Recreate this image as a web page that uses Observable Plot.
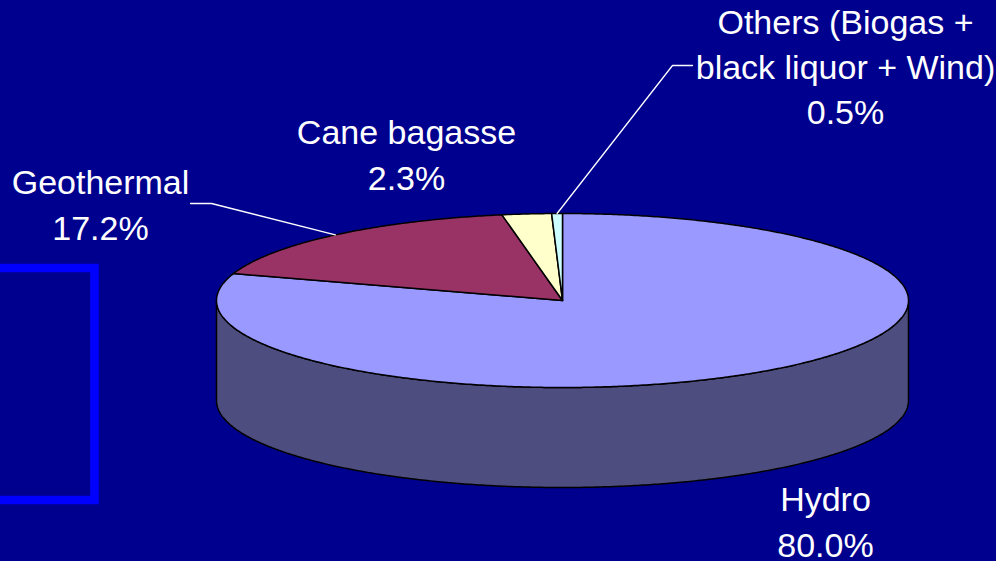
<!DOCTYPE html>
<html>
<head>
<meta charset="utf-8">
<script src="https://cdn.jsdelivr.net/npm/d3@7"></script>
<script src="https://cdn.jsdelivr.net/npm/@observablehq/plot@0.6"></script>
<style>
  html, body { margin: 0; padding: 0; background: #00008F; }
</style>
</head>
<body>
<div id="chart"></div>
<script>
// ---- data ----
const categories = ["Hydro", "Geothermal", "Cane bagasse", "Others (Biogas + black liquor + Wind)"];
const values = [80.0, 17.2, 2.3, 0.5];
const labelLines = ["Hydro", "Geothermal", "Cane bagasse", "Others (Biogas +\nblack liquor + Wind)"];

// ---- styles / layout ----
const topColors = ["#9999FF", "#993366", "#FFFFCC", "#CCFFFF"];
const sideColor = "#4D4D80";
const bg = "#00008F";
const W = 996, H = 561;
const cx = 562, cy = 300, rx = 346, ry = 87, depthPx = 100;
const ux = px => (px - cx) / rx;      // pixel -> unit space
const uy = py => (cy - py) / ry;
const depth = depthPx / ry;
// label centres (pixels) and leader elbows (pixels)
const labelPos = [[825, 519], [100, 202], [406, 152], [845, 64]];
const leaderElbows = [null, [[190, 203], [211, 203]], null, [[692, 65], [672, 65]]];

// ---- geometry from data ----
const total = d3.sum(values);
let acc = 0;
const slices = categories.map((name, i) => {
  const a0 = acc / total * 2 * Math.PI;
  acc += values[i];
  const a1 = acc / total * 2 * Math.PI;
  return {name, value: values[i], a0, a1, mid: (a0 + a1) / 2, i};
});

function arcPts(a0, a1, f) {
  const n = Math.max(2, Math.ceil((a1 - a0) / (Math.PI / 360)));
  return d3.range(n + 1).map(k => f(a0 + (a1 - a0) * k / n));
}

const topPts = slices.flatMap(s => [
  {name: s.name, x: 0, y: 0},
  ...arcPts(s.a0, s.a1, a => ({name: s.name, x: Math.sin(a), y: Math.cos(a)}))
]);

const sideTop = arcPts(Math.PI / 2, 3 * Math.PI / 2, a => ({x: Math.sin(a), y: Math.cos(a)}));
const sideBot = arcPts(Math.PI / 2, 3 * Math.PI / 2, a => ({x: Math.sin(a), y: Math.cos(a) - depth})).reverse();
const sidePts = [...sideTop, ...sideBot];

const labels = slices.map(s => ({
  x: ux(labelPos[s.i][0]), y: uy(labelPos[s.i][1]),
  text: labelLines[s.i] + "\n" + s.value.toFixed(1) + "%"
}));

const leaders = slices.filter(s => leaderElbows[s.i]).flatMap(s => [
  ...leaderElbows[s.i].map(([px, py]) => ({name: s.name, x: ux(px), y: uy(py)})),
  {name: s.name, x: Math.sin(s.mid), y: Math.cos(s.mid)}
]);

const decoBox = [{x1: ux(-20), x2: ux(94.5), y1: uy(268), y2: uy(500)}];

const chart = Plot.plot({
  width: W, height: H,
  margin: 0,
  style: {background: bg, fontFamily: "'Liberation Sans', Arial, sans-serif"},
  x: {domain: [-1, 1], range: [cx - rx, cx + rx], axis: null},
  y: {domain: [-1, 1], range: [cy + ry, cy - ry], axis: null},
  color: {domain: categories, range: topColors},
  marks: [
    Plot.rect(decoBox, {x1: "x1", x2: "x2", y1: "y1", y2: "y2", fill: "none", stroke: "#0000FF", strokeWidth: 8.5}),
    Plot.line(sidePts, {x: "x", y: "y", fill: sideColor, stroke: "black", strokeWidth: 1.5, curve: "linear-closed"}),
    Plot.line(topPts, {x: "x", y: "y", z: "name", fill: "name", stroke: "black", strokeWidth: 1.5, curve: "linear-closed", strokeLinejoin: "round"}),
    Plot.line(leaders, {x: "x", y: "y", z: "name", stroke: "white", strokeWidth: 1.3}),
    Plot.text(labels, {x: "x", y: "y", text: "text", fill: "white", fontSize: 34, lineHeight: 1.33, textAnchor: "middle",
      fontFamily: "'Liberation Sans', Arial, sans-serif"})
  ]
});
document.getElementById("chart").appendChild(chart);
</script>
</body>
</html>
